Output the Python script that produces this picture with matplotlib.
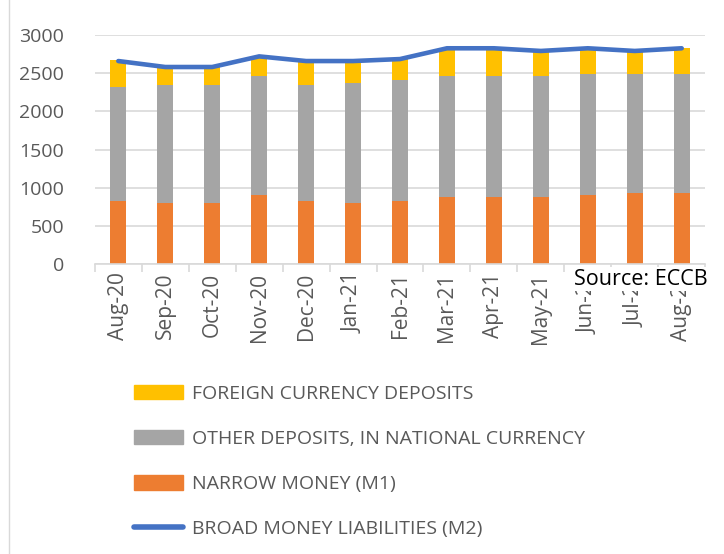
import numpy as np
import matplotlib
matplotlib.use("Agg")
import matplotlib.pyplot as plt
from matplotlib.patches import Patch
from matplotlib.lines import Line2D

months = ["Aug-20", "Sep-20", "Oct-20", "Nov-20", "Dec-20", "Jan-21", "Feb-21",
          "Mar-21", "Apr-21", "May-21", "Jun-21", "Jul-21", "Aug-21"]
narrow_m1 = [824, 798, 798, 904, 824, 798, 824, 877, 877, 877, 904, 930, 930]
other_dep = [1501, 1553, 1553, 1552, 1527, 1579, 1580, 1579, 1579, 1579, 1579, 1553, 1553]
foreign_dep = [342, 228, 228, 263, 307, 281, 280, 369, 369, 334, 342, 307, 342]
broad_m2 = [2658, 2580, 2580, 2719, 2658, 2658, 2684, 2825, 2825, 2790, 2825, 2790, 2825]

plt.rcParams['font.family'] = ['Open Sans', 'DejaVu Sans']
txt = "#595959"

fig = plt.figure(figsize=(7.24, 5.54), dpi=100)
ax = fig.add_axes([0.131, 0.523, 0.843, 0.414])

x = np.arange(len(months))
w = 0.34
ax.bar(x, narrow_m1, w, color="#ED7D31", zorder=2)
ax.bar(x, other_dep, w, bottom=narrow_m1, color="#A5A5A5", zorder=2)
bot2 = np.array(narrow_m1) + np.array(other_dep)
ax.bar(x, foreign_dep, w, bottom=bot2, color="#FFC000", zorder=2)
ax.plot(x, broad_m2, color="#4472C4", lw=3.3, solid_capstyle="round", zorder=3)

ax.set_xlim(-0.5, len(months) - 0.5)
ax.set_ylim(0, 3000)
ax.set_yticks(range(0, 3001, 500))
ax.yaxis.grid(True, color="#D9D9D9", lw=1.2)
ax.set_axisbelow(True)
for s in ["top", "right", "left"]:
    ax.spines[s].set_visible(False)
ax.spines["bottom"].set_color("#D9D9D9")
ax.spines["bottom"].set_linewidth(1.2)

ax.set_xticks(x)
ax.set_xticklabels(months, rotation=90, color=txt, fontsize=15)
ax.set_xticks(np.arange(-0.5, len(months), 1), minor=True)
ax.tick_params(axis="x", which="major", length=0, pad=6)
ax.tick_params(axis="x", which="minor", length=6, color="#D9D9D9", width=1.2)
ax.tick_params(axis="y", length=0, labelcolor=txt, labelsize=14, pad=22)

# source note sits on top of the last tick labels, like the original
fig.text(0.793, 0.486, "Source: ECCB", fontsize=15.5, color="black",
         bbox=dict(facecolor="white", edgecolor="none", pad=1))

handles = [Patch(color="#FFC000"), Patch(color="#A5A5A5"), Patch(color="#ED7D31"),
           Line2D([], [], color="#4472C4", lw=4, solid_capstyle="round")]
labels = ["FOREIGN CURRENCY DEPOSITS", "OTHER DEPOSITS, IN NATIONAL CURRENCY",
          "NARROW MONEY (M1)", "BROAD MONEY LIABILITIES (M2)"]
fig.legend(handles, labels, loc="lower left", bbox_to_anchor=(0.163, 0.0),
           frameon=False, fontsize=14, labelcolor=txt, handlelength=2.55,
           handleheight=0.75, labelspacing=1.4, handletextpad=0.45,
           borderpad=0.3)

fig.add_artist(Line2D([0.012, 0.012], [0, 1], color="#D9D9D9", lw=1))

fig.savefig("out.png", dpi=100, facecolor="white")
